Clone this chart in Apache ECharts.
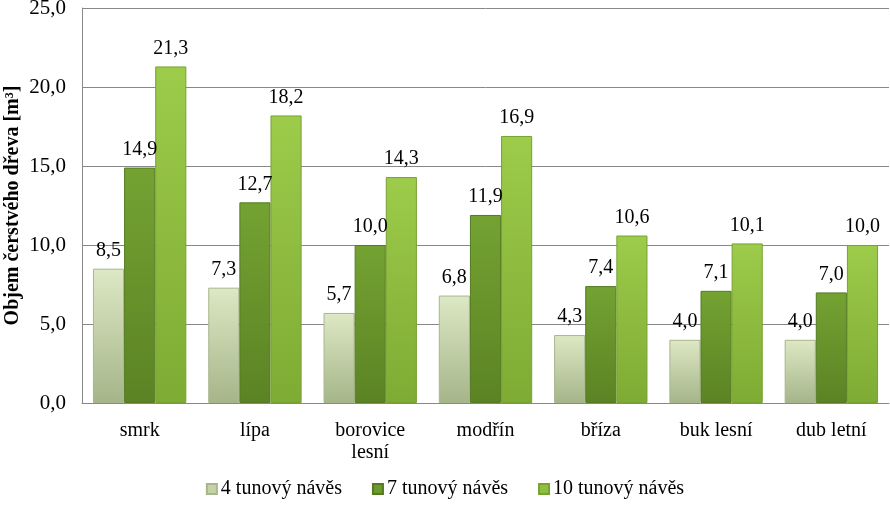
<!DOCTYPE html>
<html><head><meta charset="utf-8">
<script src="https://cdn.jsdelivr.net/npm/echarts@6/dist/echarts.min.js"></script>
<style>html,body{margin:0;padding:0;background:#fff}#c{width:890px;height:505px}</style>
</head><body><div id="c"></div>
<script>
const categories = ['smrk', 'lípa', 'borovice\nlesní', 'modřín', 'bříza', 'buk lesní', 'dub letní'];
const seriesNames = ['4 tunový návěs', '7 tunový návěs', '10 tunový návěs'];
const s4 = [8.5, 7.3, 5.7, 6.8, 4.3, 4.0, 4.0];
const s7 = [14.9, 12.7, 10.0, 11.9, 7.4, 7.1, 7.0];
const s10 = [21.3, 18.2, 14.3, 16.9, 10.6, 10.1, 10.0];
const yTicks = {min: 0, max: 25, interval: 5};

const font = '"Liberation Serif", "DejaVu Serif", serif';
const fmt = v => v.toFixed(1).replace('.', ',');
function grad(top, bottom){
  return new echarts.graphic.LinearGradient(0,0,0,1,[{offset:0,color:top},{offset:1,color:bottom}]);
}
const styles = [
  {color: grad('#dde8c4', '#a5b589'), border: '#a8b68e', legend: '#c5d3a8'},
  {color: grad('#74a232', '#5b8324'), border: '#557b22', legend: '#6c9a2e'},
  {color: grad('#9dcb4a', '#7eab33'), border: '#77a232', legend: '#8fbf3e'}
];
const data = [s4, s7, s10];
const chart = echarts.init(document.getElementById('c'));
chart.setOption({
  animation: false,
  textStyle: {fontFamily: font},
  grid: {left: 82, right: 1, top: 8, bottom: 102, containLabel: false, outerBoundsMode: 'none'},
  legend: {
    bottom: 1, left: 'center', itemWidth: 10, itemHeight: 10, itemGap: 30,
    icon: 'rect',
    textStyle: {fontFamily: font, fontSize: 20, color: '#000', padding: [0,0,0,-1]},
    data: seriesNames.map((n,i)=>({name:n, itemStyle:{color: styles[i].legend}}))
  },
  xAxis: {
    type: 'category', data: categories,
    axisLine: {lineStyle: {color: '#888'}},
    axisTick: {show: false},
    axisLabel: {fontFamily: font, fontSize: 20, color: '#000', margin: 17, lineHeight: 22, interval: 0}
  },
  yAxis: {
    type: 'value', min: yTicks.min, max: yTicks.max, interval: yTicks.interval,
    name: 'Objem čerstvého dřeva [m³]', nameLocation: 'middle', nameGap: 59,
    nameMoveOverlap: false,
    nameTextStyle: {fontFamily: font, fontSize: 20, fontWeight: 'bold', color: '#000'},
    axisLine: {show: true, lineStyle: {color: '#888'}},
    axisTick: {show: false},
    splitLine: {lineStyle: {color: '#888'}},
    axisLabel: {fontFamily: font, fontSize: 21, color: '#000', margin: 16, formatter: v => fmt(v)}
  },
  series: data.map((d,i)=>({
    name: seriesNames[i], type: 'bar', data: d,
    barGap: '0%', barCategoryGap: '19%',
    itemStyle: {color: styles[i].color, borderColor: styles[i].border, borderWidth: 1},
    label: {show: true, position: 'top', distance: 8, fontFamily: font, fontSize: 20, color: '#000', formatter: p => fmt(p.value)}
  }))
});
</script></body></html>
